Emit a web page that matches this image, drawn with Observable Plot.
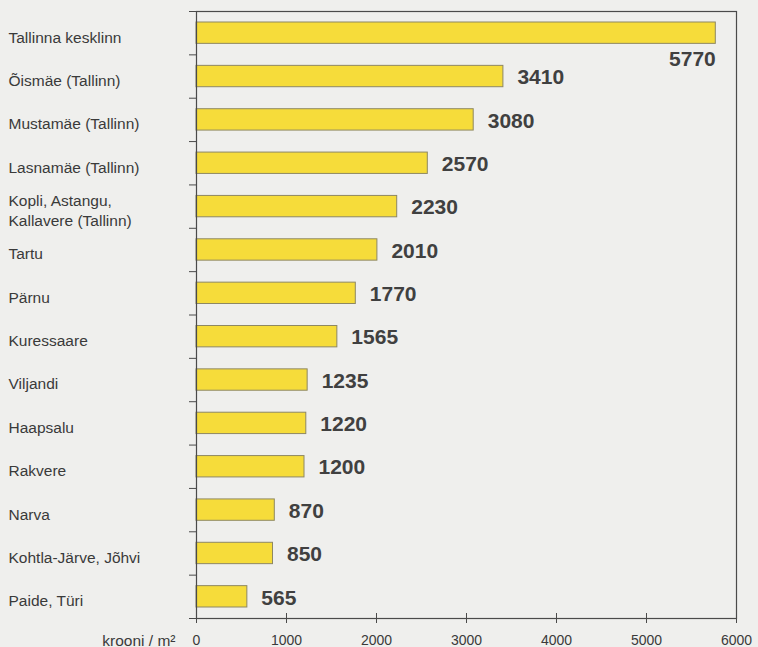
<!DOCTYPE html>
<html>
<head>
<meta charset="utf-8">
<script src="https://cdn.jsdelivr.net/npm/d3@7"></script>
<script src="https://cdn.jsdelivr.net/npm/@observablehq/plot@0.6"></script>
<style>
  html, body { margin: 0; padding: 0; background: #efefed; }
  #chart svg { display: block; }
</style>
</head>
<body>
<div id="chart"></div>
<script>
const places = [
  "Tallinna kesklinn",
  "Õismäe (Tallinn)",
  "Mustamäe (Tallinn)",
  "Lasnamäe (Tallinn)",
  "Kopli, Astangu,\nKallavere (Tallinn)",
  "Tartu",
  "Pärnu",
  "Kuressaare",
  "Viljandi",
  "Haapsalu",
  "Rakvere",
  "Narva",
  "Kohtla-Järve, Jõhvi",
  "Paide, Türi"
];
const prices = [5770, 3410, 3080, 2570, 2230, 2010, 1770, 1565, 1235, 1220, 1200, 870, 850, 565];
const xTicks = [0, 1000, 2000, 3000, 4000, 5000, 6000];
const unitLabel = "krooni / m²";

const data = places.map((name, i) => ({name, value: prices[i], i}));
const inside = data.filter(d => d.value < 5000);
const longest = data.filter(d => d.value >= 5000);

const ink = "#3a3a3a";

const chart = Plot.plot({
  width: 758,
  height: 647,
  marginLeft: 196,
  marginRight: 22,
  marginTop: 11,
  marginBottom: 29,
  style: {background: "#efefed", fontFamily: "'Liberation Sans', Arial, sans-serif", color: ink},
  x: {type: "linear", domain: [0, 6000], label: null},
  y: {type: "linear", domain: [0, places.length], reverse: true, label: null},
  marks: [
    Plot.rectX(data, {
      x1: 0, x2: "value", y1: "i", y2: d => d.i + 1,
      insetTop: 11, insetBottom: 11,
      fill: "#f6dc3a", stroke: "#8e8862", strokeWidth: 1
    }),
    Plot.frame({stroke: "#4a4a4a", strokeWidth: 1.2}),
    Plot.axisX({ticks: xTicks, tickSize: 5, tickPadding: 12, fontSize: 14, stroke: "#4a4a4a", color: ink, tickFormat: d => String(d), label: null}),
    Plot.axisX({ticks: xTicks, tickSize: -5, tickFormat: () => "", stroke: "#4a4a4a", label: null}),
    Plot.axisY({ticks: d3.range(places.length + 1), tickSize: 7, tickFormat: () => "", stroke: "#4a4a4a", label: null}),
    Plot.text(data, {
      y: d => d.i + 0.5, text: "name", frameAnchor: "left",
      textAnchor: "start", dx: -188, dy: 3, fontSize: 15.5, fill: ink, lineHeight: 1.3
    }),
    Plot.text(inside, {
      x: "value", y: d => d.i + 0.5, text: d => String(d.value),
      textAnchor: "start", dx: 14, dy: 1, fontSize: 21, fontWeight: "bold", fill: "#404040"
    }),
    Plot.text(longest, {
      x: "value", y: d => d.i + 1, text: d => String(d.value),
      textAnchor: "end", dx: 0, dy: 4, fontSize: 21, fontWeight: "bold", fill: "#404040"
    }),
    Plot.text([unitLabel], {
      x: [0], text: d => d, frameAnchor: "bottom",
      textAnchor: "end", dx: -21, dy: 27, fontSize: 15.5, fill: ink
    })
  ]
});
document.getElementById("chart").appendChild(chart);
</script>
</body>
</html>
